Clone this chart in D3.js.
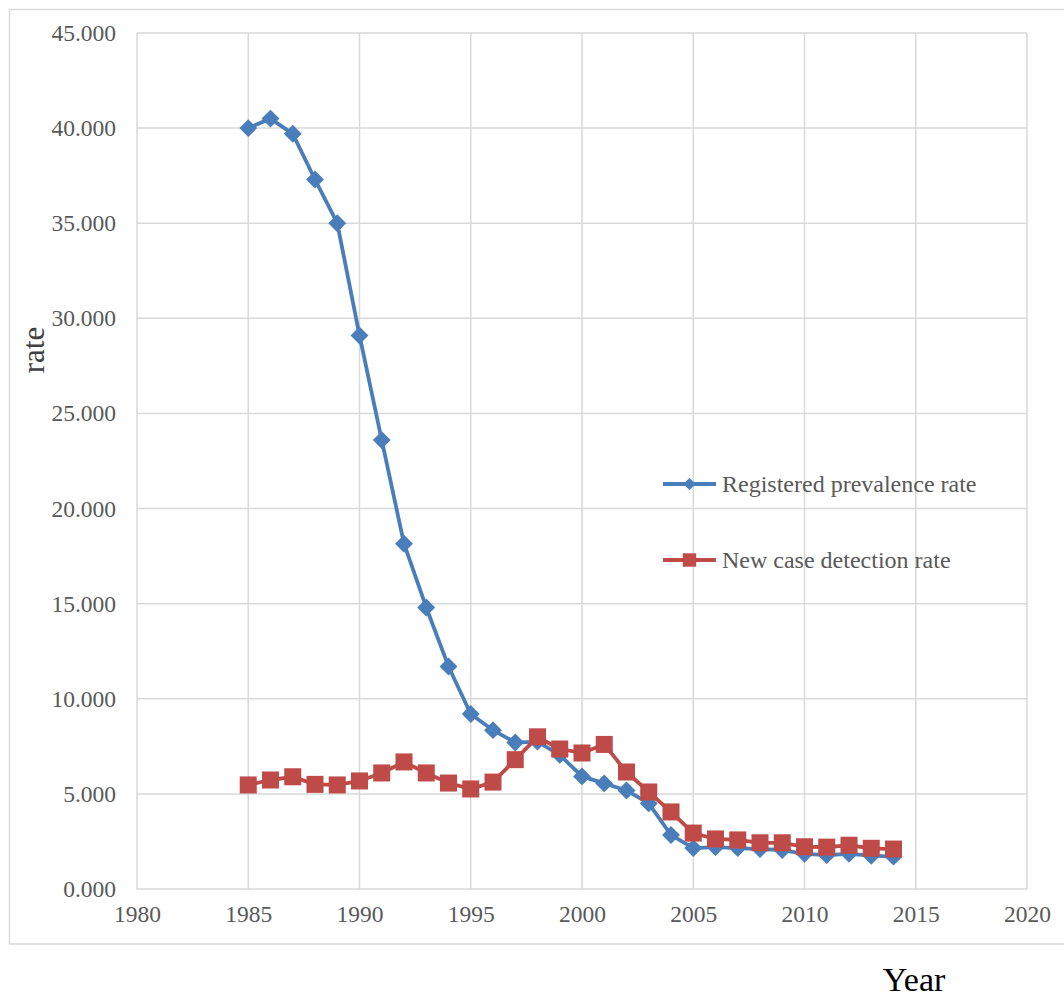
<!DOCTYPE html>
<html><head><meta charset="utf-8">
<script src="https://cdn.jsdelivr.net/npm/d3@7"></script>
<style>body{margin:0;background:#fff}svg{display:block}</style>
</head><body>
<script>
const years = [1985,1986,1987,1988,1989,1990,1991,1992,1993,1994,1995,1996,1997,1998,1999,2000,2001,2002,2003,2004,2005,2006,2007,2008,2009,2010,2011,2012,2013,2014];
const prevalence = [40.0,40.5,39.7,37.3,35.0,29.1,23.6,18.15,14.8,11.7,9.2,8.35,7.7,7.75,7.05,5.92,5.55,5.18,4.5,2.84,2.15,2.2,2.15,2.1,2.05,1.85,1.78,1.85,1.75,1.7];
const detection = [5.47,5.73,5.9,5.5,5.47,5.68,6.1,6.68,6.1,5.57,5.26,5.62,6.8,8.0,7.36,7.15,7.6,6.15,5.1,4.05,2.94,2.63,2.58,2.43,2.43,2.22,2.2,2.3,2.14,2.1];
const xTicks = [1980,1985,1990,1995,2000,2005,2010,2015,2020];
const yTicks = [0,5,10,15,20,25,30,35,40,45];
const seriesNames = ["Registered prevalence rate","New case detection rate"];
const seriesColors = ["#4a7ebb","#be4b48"];

const W=1064,H=997;
const svg=d3.select("body").append("svg").attr("width",W).attr("height",H);
const font="'Liberation Serif','Times New Roman',serif";

svg.append("rect").attr("x",9.5).attr("y",9.5).attr("width",1070).attr("height",934.5)
  .attr("fill","none").attr("stroke","#d9d9d9").attr("stroke-width",1.5);

const x=d3.scaleLinear().domain([1980,2020]).range([137,1027]);
const y=d3.scaleLinear().domain([0,45]).range([889,33]);

const g=svg.append("g");
g.selectAll(".vg").data(xTicks).join("line")
  .attr("x1",d=>x(d)).attr("x2",d=>x(d)).attr("y1",y(45)).attr("y2",y(0))
  .attr("stroke","#d9d9d9").attr("stroke-width",1.5);
g.selectAll(".hg").data(yTicks).join("line")
  .attr("x1",x(1980)).attr("x2",x(2020)).attr("y1",d=>y(d)).attr("y2",d=>y(d))
  .attr("stroke","#d9d9d9").attr("stroke-width",1.5);

const yAxis=svg.append("g").attr("transform",`translate(${x(1980)},0)`)
  .call(d3.axisLeft(y).tickValues(yTicks).tickFormat(d3.format(".3f")).tickSize(0).tickPadding(21));
yAxis.select(".domain").remove();
yAxis.selectAll("text").attr("font-family",font).attr("font-size",23.5).attr("fill","#595959");

const xAxis=svg.append("g").attr("transform",`translate(0,${y(0)})`)
  .call(d3.axisBottom(x).tickValues(xTicks).tickFormat(d3.format("d")).tickSize(0).tickPadding(16));
xAxis.select(".domain").remove();
xAxis.selectAll("text").attr("font-family",font).attr("font-size",23.5).attr("fill","#595959");

svg.append("text").attr("transform","translate(44,350) rotate(-90)").attr("text-anchor","middle")
  .attr("font-family",font).attr("font-size",31).attr("fill","#404040").text("rate");
svg.append("text").attr("x",914).attr("y",991).attr("text-anchor","middle")
  .attr("font-family",font).attr("font-size",34).attr("fill","#000").text("Year");

const sets=[prevalence,detection];
const shapes=[d3.symbol().type(d3.symbolSquare).size(160),d3.symbol().type(d3.symbolSquare).size(290)];

sets.forEach((vals,i)=>{
  const data=years.map((yr,j)=>({x:yr,v:vals[j]}));
  svg.append("path").datum(data)
    .attr("d",d3.line().x(d=>x(d.x)).y(d=>y(d.v)))
    .attr("fill","none").attr("stroke",seriesColors[i]).attr("stroke-width",3.8).attr("stroke-linejoin","round");
  svg.append("g").selectAll("path").data(data).join("path")
    .attr("transform",d=>`translate(${x(d.x)},${y(d.v)})`+(i===0?" rotate(45)":""))
    .attr("d",shapes[i]).attr("fill",seriesColors[i]);
});

const legY=[484,560];
seriesNames.forEach((n,i)=>{
  const lg=svg.append("g");
  lg.append("line").attr("x1",663).attr("x2",716).attr("y1",legY[i]).attr("y2",legY[i])
    .attr("stroke",seriesColors[i]).attr("stroke-width",3.8);
  lg.append("path").attr("transform",`translate(689.5,${legY[i]})`+(i===0?" rotate(45)":""))
    .attr("d",i===0?d3.symbol().type(d3.symbolSquare).size(75)():d3.symbol().type(d3.symbolSquare).size(180)())
    .attr("fill",seriesColors[i]);
  lg.append("text").attr("x",722).attr("y",legY[i]+8).attr("font-family",font).attr("font-size",24)
    .attr("fill","#595959").text(n);
});
</script>
</body></html>
